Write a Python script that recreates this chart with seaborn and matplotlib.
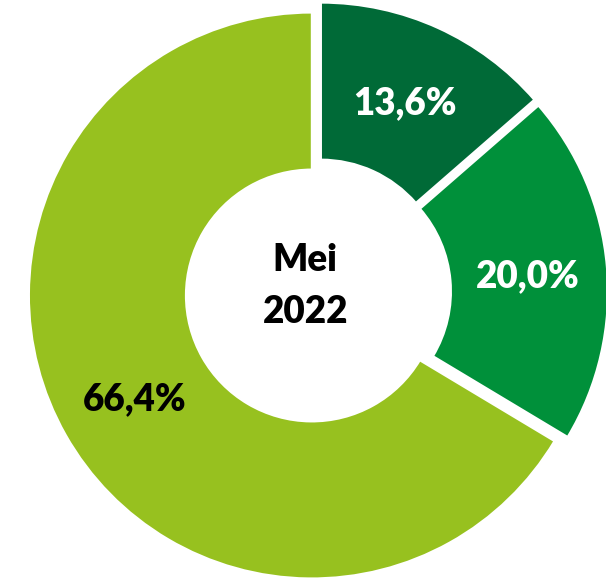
import matplotlib
matplotlib.use('Agg')
import matplotlib.pyplot as plt
import seaborn as sns

# Data
labels = ['Segmen A', 'Segmen B', 'Segmen C']
values = [13.6, 20.0, 66.4]
colors = ['#006A37', '#00903A', '#97C11F']
label_colors = ['white', 'white', 'black']
center_text = 'Mei\n2022'

sns.set_theme(style='white')
plt.rcParams['font.family'] = ['Lato', 'DejaVu Sans']

fig = plt.figure(figsize=(6.06, 5.86), dpi=100)
ax = fig.add_axes([0, 0, 1, 1])

wedges, texts, autotexts = ax.pie(
    values,
    colors=colors,
    startangle=90,
    counterclock=False,
    explode=[0.025] * len(values),
    autopct=lambda p: f'{p:.1f}'.replace('.', ',') + '%',
    pctdistance=0.72,
    wedgeprops=dict(width=0.555, edgecolor='white', linewidth=1.5),
    textprops=dict(fontsize=26.5, fontweight='heavy'),
)
for t, c in zip(autotexts, label_colors):
    t.set_color(c)
    t.set_va('center_baseline')

ax.text(-0.045, 0.02, center_text, ha='center', va='center',
        fontsize=26.5, fontweight='heavy', color='black', linespacing=1.65)

ax.set_xlim(-1.124, 1.018)
ax.set_ylim(-1.039, 1.032)
ax.set_aspect('auto')
ax.axis('off')

fig.savefig('out.png', dpi=100, facecolor='white')
